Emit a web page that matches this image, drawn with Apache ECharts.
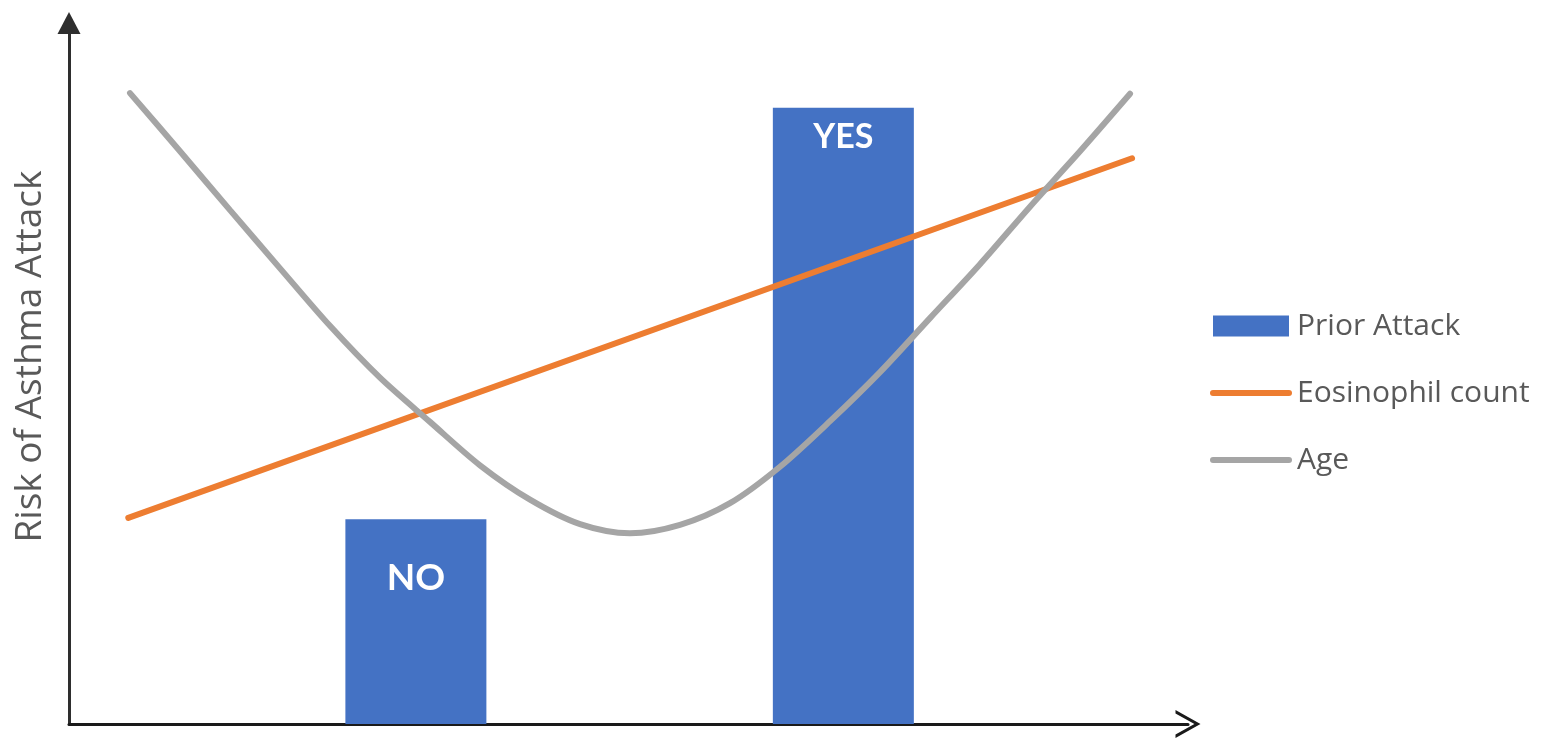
<!DOCTYPE html>
<html>
<head>
<meta charset="utf-8">
<script src="https://cdn.jsdelivr.net/npm/echarts@6/dist/echarts.min.js"></script>
<style>
html,body{margin:0;padding:0;background:#fff;}
#chart{width:1545px;height:743px;}
</style>
</head>
<body>
<div id="chart"></div>
<script>
// ---- data ----
const seriesNames = ['Prior Attack', 'Eosinophil count', 'Age'];
const barLabels = ['NO', 'YES'];
const barX = [31.0, 69.2];
const barValues = [29.2, 87.9];
const eosinophilX = [5.3, 95.0];
const eosinophilY = [29.4, 80.7];
const ageX = [5.45, 9.92, 14.39, 18.86, 23.32, 27.79, 32.26, 36.73, 41.20, 45.67, 50.13, 54.60, 59.07, 63.54, 68.01, 72.48, 76.94, 81.41, 85.88, 90.35, 94.82];
const ageY = [90.0, 81.7, 73.3, 65.0, 56.8, 49.4, 43.1, 36.9, 32.0, 28.5, 27.2, 28.4, 31.5, 36.7, 43.2, 50.2, 57.9, 65.6, 73.8, 81.7, 89.9];
const yAxisName = 'Risk of Asthma Attack';

const FONT = '"Open Sans", Lato, sans-serif';
const LABEL_FONT = 'Lato, "Open Sans", sans-serif';
const labelStyles = [
  {fontSize: 37, distance: 40},
  {fontSize: 34, distance: 12}
];

const barData = barX.map((x, i) => ({
  value: [x, barValues[i]],
  label: {
    show: true, position: 'insideTop', formatter: barLabels[i],
    color: '#fff', fontWeight: 'bold', fontFamily: LABEL_FONT,
    fontSize: labelStyles[i].fontSize, distance: labelStyles[i].distance
  }
}));

const chevron = 'path://M0,25 L14,0 L28,25 L24.6,25 L14,6.07 L3.4,25 Z';
const rectIcon = 'path://M0,0H76V21H0Z';
const lineIcon = 'path://M3,0H79A3,3 0 0 1 79,6H3A3,3 0 0 1 3,0Z';

const chart = echarts.init(document.getElementById('chart'));
chart.setOption({
  animation: false,
  backgroundColor: '#ffffff',
  grid: {left: 69, right: 357, top: 23, bottom: 19},
  legend: {
    orient: 'vertical', left: 1205, top: 306,
    itemWidth: 82, itemHeight: 21, itemGap: 37,
    textStyle: {fontSize: 30, color: '#595959', fontFamily: FONT, lineHeight: 26},
    data: [
      {name: seriesNames[0], icon: rectIcon},
      {name: seriesNames[1], icon: lineIcon},
      {name: seriesNames[2], icon: lineIcon}
    ]
  },
  xAxis: {
    type: 'value', min: 0, max: 100,
    axisLine: {show: true, lineStyle: {color: '#1a1a1a', width: 3},
      symbol: ['none', chevron], symbolSize: [28, 25]},
    axisTick: {show: false}, axisLabel: {show: false}, splitLine: {show: false}
  },
  yAxis: {
    type: 'value', min: 0, max: 100,
    name: yAxisName, nameLocation: 'middle', nameGap: 20, nameRotate: 90,
    nameTextStyle: {fontSize: 37, color: '#595959', fontFamily: FONT, padding: [0, 0, 0, 34]},
    axisLine: {show: true, lineStyle: {color: '#2e2e2e', width: 3},
      symbol: ['none', 'triangle'], symbolSize: [23, 22]},
    axisTick: {show: false}, axisLabel: {show: false}, splitLine: {show: false}
  },
  series: [
    {
      name: seriesNames[0], type: 'bar', barWidth: 141,
      itemStyle: {color: '#4472C4'},
      data: barData, z: 1
    },
    {
      name: seriesNames[1], type: 'line', symbol: 'none', showSymbol: false,
      lineStyle: {color: '#ED7D31', width: 6, cap: 'round'},
      itemStyle: {color: '#ED7D31'},
      data: eosinophilX.map((x, i) => [x, eosinophilY[i]]), z: 3
    },
    {
      name: seriesNames[2], type: 'line', symbol: 'none', showSymbol: false, smooth: 0.3,
      lineStyle: {color: '#A5A5A5', width: 6, cap: 'round'},
      itemStyle: {color: '#A5A5A5'},
      data: ageX.map((x, i) => [x, ageY[i]]), z: 4
    }
  ]
});
</script>
</body>
</html>
